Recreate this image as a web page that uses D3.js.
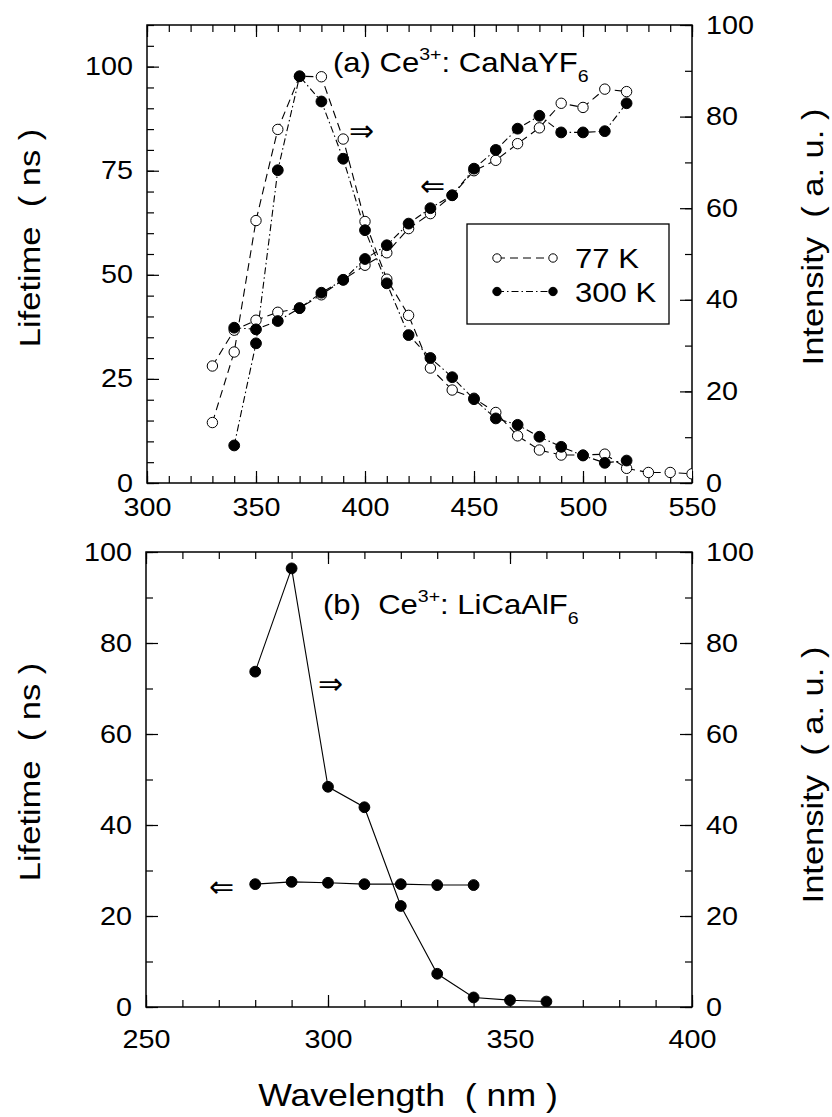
<!DOCTYPE html>
<html>
<head>
<meta charset="utf-8">
<script src="https://cdn.jsdelivr.net/npm/d3@7"></script>
<style>
  body { margin: 0; background: #fff; }
  text { font-family: "Liberation Sans", Arial, Helvetica, sans-serif; fill: #000; }
</style>
</head>
<body>
<script>
// (a) Ce3+: CaNaYF6 -- lifetime (left axis) and intensity (right axis)
const wlA77Life = [330, 340, 350, 360, 370, 380, 390, 400, 410, 420, 430, 440, 450, 460, 470, 480, 490, 500, 510, 520];
const lifeA77 = [28.1, 36.7, 39.1, 41.0, 42.0, 45.2, 48.8, 52.3, 55.3, 61.1, 64.7, 69.1, 75.0, 77.5, 81.5, 85.3, 91.2, 90.2, 94.6, 94.0];
const wlA300Life = [340, 350, 360, 370, 380, 390, 400, 410, 420, 430, 440, 450, 460, 470, 480, 490, 500, 510, 520];
const lifeA300 = [37.3, 36.9, 38.9, 42.0, 45.7, 48.8, 53.8, 57.1, 62.3, 66.0, 69.1, 75.5, 80.0, 85.1, 88.2, 84.2, 84.2, 84.5, 91.2];
const wlA77Int = [330, 340, 350, 360, 370, 380, 390, 400, 410, 420, 430, 440, 450, 460, 470, 480, 490, 500, 510, 520, 530, 540, 550];
const intA77 = [13.2, 28.6, 57.3, 77.2, 88.8, 88.7, 75.1, 57.1, 44.5, 36.6, 25.1, 20.3, 18.5, 15.4, 10.3, 7.2, 6.1, 6.1, 6.3, 3.2, 2.3, 2.3, 2.0];
const wlA300Int = [340, 350, 360, 370, 380, 390, 400, 410, 420, 430, 440, 450, 460, 470, 480, 490, 500, 510, 520];
const intA300 = [8.2, 30.5, 68.3, 88.8, 83.3, 70.8, 55.2, 43.6, 32.3, 27.3, 23.1, 18.3, 14.1, 12.7, 10.1, 7.9, 6.0, 4.4, 4.9];

// (b) Ce3+: LiCaAlF6
const wlBInt = [280, 290, 300, 310, 320, 330, 340, 350, 360];
const intB = [73.7, 96.4, 48.4, 43.9, 22.2, 7.3, 2.1, 1.5, 1.2];
const wlBLife = [280, 290, 300, 310, 320, 330, 340];
const lifeB = [27.0, 27.5, 27.3, 27.0, 27.0, 26.8, 26.8];

// ticks
const xTicksA = [300, 350, 400, 450, 500, 550];
const leftTicksA = [0, 25, 50, 75, 100];
const xTicksB = [250, 300, 350, 400];
const leftTicksB = [0, 20, 40, 60, 80, 100];
const rightTicks = [0, 20, 40, 60, 80, 100];

const SX = 1.15; // reference type is a little wider than Liberation Sans
const SP2 = "\u00a0\u00a0";

const svg = d3.select("body").append("svg")
    .attr("width", 832)
    .attr("height", 1117);

function stext(g, x, y, str, size, anchor, rot) {
    return g.append("text")
        .attr("transform", `translate(${x},${y}) rotate(${rot || 0}) scale(${SX},1)`)
        .attr("font-size", size)
        .attr("text-anchor", anchor || "start")
        .text(str);
}

function zip(xs, ys) { return xs.map((x, i) => [x, ys[i]]); }

function panel(p) {
    const g = svg.append("g");
    const x = d3.scaleLinear().domain(p.xDomain).range([p.left, p.right]);
    const yL = d3.scaleLinear().domain(p.lDomain).range([p.bottom, p.top]);
    const yR = d3.scaleLinear().domain([0, 100]).range([p.bottom, p.top]);

    const axes = [
        [d3.axisBottom, x, `translate(0,${p.bottom})`, p.xMinor, p.xTicks, true, p.xPad],
        [d3.axisTop, x, `translate(0,${p.top})`, p.xMinor, p.xTicks, false, 0],
        [d3.axisLeft, yL, `translate(${p.left},0)`, p.lMinor, p.lTicks, true, 14],
        [d3.axisRight, yR, `translate(${p.right},0)`, d3.range(0, 101, 10), rightTicks, true, 14]
    ];
    axes.forEach(function(a) {
        const minor = g.append("g").attr("transform", a[2])
            .call(a[0](a[1]).tickValues(a[3]).tickSizeInner(-7).tickSizeOuter(0).tickFormat(""));
        minor.select(".domain").remove();
        const major = g.append("g").attr("transform", a[2])
            .call(a[0](a[1]).tickValues(a[4]).tickSizeInner(-12).tickSizeOuter(0).tickPadding(a[6])
                .tickFormat(a[5] ? d3.format("d") : ""));
        major.select(".domain").remove();
        major.selectAll("text")
            .attr("font-size", 25)
            .attr("font-family", null)
            .attr("transform", `scale(${SX},1)`)
            .attr("x", function() { const v = +d3.select(this).attr("x"); return isNaN(v) ? 0 : v / SX; });
    });
    g.selectAll(".tick line").attr("stroke", "#000").attr("stroke-width", 1.2);

    g.append("rect")
        .attr("x", p.left).attr("y", p.top)
        .attr("width", p.right - p.left).attr("height", p.bottom - p.top)
        .attr("fill", "none").attr("stroke", "#000").attr("stroke-width", 1.5);

    const clipId = "clip" + p.id;
    svg.append("clipPath").attr("id", clipId).append("rect")
        .attr("x", p.left).attr("y", p.top)
        .attr("width", p.right - p.left).attr("height", p.bottom - p.top);
    const plot = g.append("g").attr("clip-path", `url(#${clipId})`);

    p.series.forEach(function(s) {
        const yy = s.axis === "L" ? yL : yR;
        plot.append("path")
            .datum(zip(s.x, s.y))
            .attr("fill", "none").attr("stroke", "#000").attr("stroke-width", 1.1)
            .attr("stroke-dasharray", s.dash || null)
            .attr("d", d3.line().x(d => x(d[0])).y(d => yy(d[1])));
    });
    p.series.slice().sort((a, b) => (a.open ? 0 : 1) - (b.open ? 0 : 1)).forEach(function(s) {
        const yy = s.axis === "L" ? yL : yR;
        plot.selectAll(null)
            .data(zip(s.x, s.y))
            .enter().append("circle")
            .attr("cx", d => x(d[0])).attr("cy", d => yy(d[1]))
            .attr("r", s.open ? 5.2 : 5.4)
            .attr("fill", s.open ? "#fff" : "#000")
            .attr("stroke", "#000").attr("stroke-width", 1);
    });
    return g;
}

const dash77 = "8,5";
const dash300 = "7,3,1.5,3";

panel({
    id: "A", left: 147, right: 692, top: 25, bottom: 483,
    xDomain: [300, 550], xTicks: xTicksA, xMinor: d3.range(300, 551, 10), xPad: 15,
    lDomain: [0, 110], lTicks: leftTicksA, lMinor: d3.range(0, 111, 5),
    series: [
        { x: wlA77Life, y: lifeA77, axis: "L", open: true, dash: dash77 },
        { x: wlA77Int, y: intA77, axis: "R", open: true, dash: dash77 },
        { x: wlA300Life, y: lifeA300, axis: "L", open: false, dash: dash300 },
        { x: wlA300Int, y: intA300, axis: "R", open: false, dash: dash300 }
    ]
});

panel({
    id: "B", left: 146, right: 692, top: 552, bottom: 1007,
    xDomain: [250, 400], xTicks: xTicksB, xMinor: d3.range(250, 401, 10), xPad: 23,
    lDomain: [0, 100], lTicks: leftTicksB, lMinor: d3.range(0, 101, 10),
    series: [
        { x: wlBInt, y: intB, axis: "R", open: false },
        { x: wlBLife, y: lifeB, axis: "L", open: false }
    ]
});

// panel labels
function label(x, y, pre, name) {
    const t = svg.append("text")
        .attr("transform", `translate(${x},${y}) scale(${SX},1)`)
        .attr("font-size", 27);
    t.append("tspan").text(pre + "Ce");
    t.append("tspan").attr("font-size", 17).attr("dy", -12).text("3+");
    t.append("tspan").attr("dy", 12).text(": " + name);
    t.append("tspan").attr("font-size", 17).attr("dy", 10).text("6");
}
label(333, 72, "(a) ", "CaNaYF");
label(323, 614, "(b)" + SP2, "LiCaAlF");

// arrows
function arrow(x, y, ch) {
    svg.append("text").attr("x", x).attr("y", y)
        .attr("font-family", "DejaVu Sans").attr("font-size", 30)
        .attr("dominant-baseline", "central").text(ch);
}
arrow(349, 130, "\u21D2");
arrow(420, 185, "\u21D0");
arrow(318, 683, "\u21D2");
arrow(209, 886, "\u21D0");

// legend
const lg = svg.append("g");
lg.append("rect").attr("x", 467).attr("y", 224).attr("width", 202).attr("height", 100)
    .attr("fill", "#fff").attr("stroke", "#000").attr("stroke-width", 1.3);
[[258, true, dash77, "77 K"], [291.5, false, dash300, "300 K"]].forEach(function(r) {
    lg.append("line").attr("x1", 497).attr("x2", 553).attr("y1", r[0]).attr("y2", r[0])
        .attr("stroke", "#000").attr("stroke-width", 1).attr("stroke-dasharray", r[2]);
    [497, 553].forEach(function(cx) {
        lg.append("circle").attr("cx", cx).attr("cy", r[0]).attr("r", 4.2)
            .attr("fill", r[1] ? "#fff" : "#000").attr("stroke", "#000");
    });
    stext(lg, 575, r[0] + 10, r[3], 27, "start");
});

// axis titles
stext(svg, 40, 238, "Lifetime" + SP2 + "( ns )", 30, "middle", -90);
stext(svg, 823, 237, "Intensity" + SP2 + "( a. u. )", 30, "middle", -90);
stext(svg, 40, 772, "Lifetime" + SP2 + "( ns )", 30, "middle", -90);
stext(svg, 823, 775, "Intensity" + SP2 + "( a. u. )", 30, "middle", -90);
stext(svg, 408, 1106, "Wavelength" + SP2 + "( nm )", 31, "middle");
</script>
</body>
</html>
